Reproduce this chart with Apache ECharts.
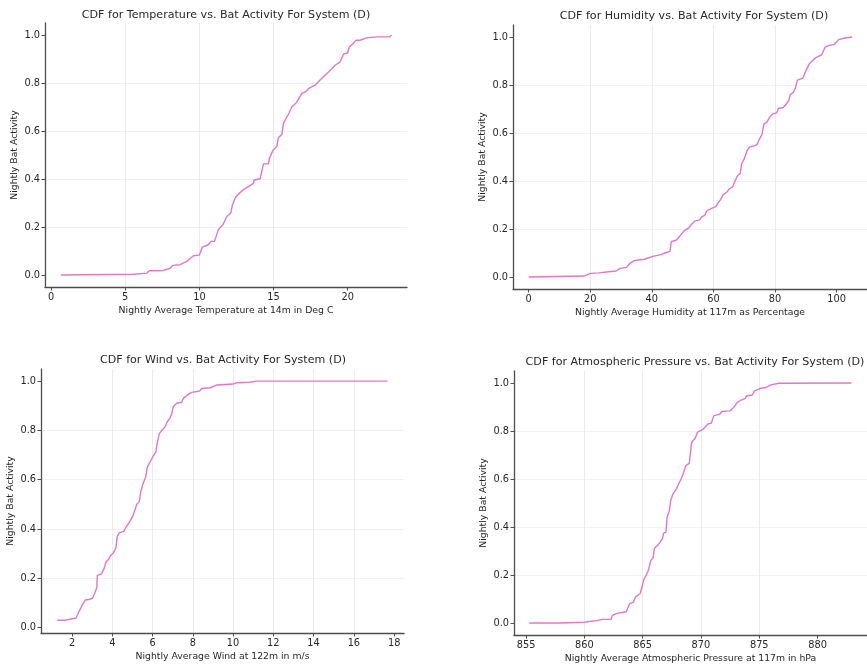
<!DOCTYPE html>
<html>
<head>
<meta charset="utf-8">
<script src="https://cdn.jsdelivr.net/npm/echarts@6/dist/echarts.min.js"></script>
<style>
  html, body { margin: 0; padding: 0; background: #fff; }
  #chart { width: 867px; height: 669px; }
</style>
</head>
<body>
<div id="chart"></div>
<script>
const tempX = [0.67, 5.57, 6.46, 6.62, 7.58, 8.03, 8.2, 8.7, 9.16, 9.6, 10.0, 10.2, 10.6, 10.78, 11.02, 11.29, 11.58, 11.85, 12.12, 12.23, 12.44, 12.7, 12.97, 13.3, 13.65, 13.69, 14.1, 14.32, 14.66, 14.72, 14.95, 15.22, 15.33, 15.56, 15.67, 15.85, 16.03, 16.23, 16.57, 16.9, 17.24, 17.35, 17.8, 18.14, 18.47, 18.8, 19.15, 19.48, 19.71, 20.0, 20.1, 20.38, 20.56, 20.83, 21.28, 21.95, 22.85, 22.96];
const tempY = [0, 0.003, 0.008, 0.018, 0.019, 0.028, 0.04, 0.043, 0.057, 0.08, 0.083, 0.116, 0.126, 0.14, 0.14, 0.19, 0.209, 0.244, 0.258, 0.292, 0.324, 0.341, 0.355, 0.368, 0.382, 0.396, 0.401, 0.463, 0.463, 0.486, 0.518, 0.535, 0.573, 0.585, 0.632, 0.653, 0.673, 0.70, 0.72, 0.756, 0.767, 0.777, 0.791, 0.812, 0.832, 0.851, 0.874, 0.887, 0.92, 0.925, 0.95, 0.964, 0.978, 0.978, 0.988, 0.992, 0.993, 1.0];

const humX = [0, 18.0, 20.1, 22.8, 26.0, 28.4, 29.7, 31.8, 32.9, 34.3, 36.1, 37.6, 38.2, 40.3, 40.8, 42.9, 44.5, 45.9, 46.3, 48.0, 49.1, 50.4, 52.0, 53.0, 54.1, 55.5, 56.2, 57.3, 57.8, 59.4, 60.8, 61.5, 62.2, 63.1, 64.5, 65.0, 66.3, 66.8, 67.7, 68.7, 69.2, 70.0, 71.0, 71.8, 73.2, 74.2, 74.8, 75.8, 76.4, 77.4, 78.5, 79.5, 80.6, 81.1, 82.7, 83.8, 84.5, 85.0, 85.9, 86.7, 87.3, 89.1, 90.1, 91.2, 92.3, 93.3, 95.2, 96.3, 97.5, 99.2, 100.7, 102.8, 105.0];
const humY = [0, 0.004, 0.015, 0.017, 0.022, 0.025, 0.036, 0.04, 0.057, 0.068, 0.072, 0.074, 0.082, 0.086, 0.092, 0.093, 0.101, 0.107, 0.147, 0.154, 0.171, 0.191, 0.205, 0.221, 0.234, 0.237, 0.251, 0.258, 0.275, 0.286, 0.293, 0.309, 0.32, 0.341, 0.355, 0.365, 0.376, 0.393, 0.42, 0.431, 0.473, 0.492, 0.528, 0.542, 0.546, 0.552, 0.57, 0.594, 0.637, 0.645, 0.67, 0.681, 0.684, 0.702, 0.706, 0.723, 0.736, 0.761, 0.768, 0.789, 0.82, 0.829, 0.861, 0.889, 0.903, 0.914, 0.926, 0.958, 0.965, 0.968, 0.989, 0.996, 1.0];

const windX = [1.27, 1.65, 1.9, 2.2, 2.36, 2.45, 2.53, 2.66, 2.9, 3.03, 3.14, 3.23, 3.26, 3.47, 3.59, 3.69, 3.81, 3.92, 4.05, 4.18, 4.25, 4.35, 4.58, 4.71, 4.88, 5.01, 5.13, 5.21, 5.34, 5.42, 5.54, 5.66, 5.74, 5.87, 6.0, 6.17, 6.23, 6.33, 6.45, 6.61, 6.74, 6.86, 6.95, 7.03, 7.2, 7.45, 7.53, 7.78, 7.94, 8.35, 8.44, 8.86, 9.18, 10.0, 10.17, 10.83, 11.16, 17.67];
const windY = [0.03, 0.03, 0.034, 0.039, 0.067, 0.067, 0.094, 0.112, 0.115, 0.12, 0.142, 0.162, 0.212, 0.218, 0.239, 0.266, 0.276, 0.292, 0.303, 0.323, 0.371, 0.384, 0.391, 0.411, 0.431, 0.451, 0.478, 0.499, 0.511, 0.553, 0.586, 0.611, 0.651, 0.67, 0.691, 0.714, 0.748, 0.786, 0.799, 0.813, 0.836, 0.849, 0.866, 0.896, 0.91, 0.914, 0.93, 0.946, 0.954, 0.96, 0.97, 0.973, 0.984, 0.988, 0.993, 0.995, 1.0, 1.0];

const presX = [855.28, 857.9, 860.0, 860.4, 861.1, 861.5, 862.3, 862.4, 862.8, 863.6, 863.9, 864.2, 864.4, 864.8, 865.1, 865.3, 865.5, 865.7, 865.9, 866.0, 866.3, 866.5, 866.7, 866.8, 867.0, 867.1, 867.3, 867.4, 867.6, 867.9, 868.1, 868.3, 868.5, 868.7, 869.0, 869.2, 869.5, 869.7, 870.2, 870.6, 870.9, 871.1, 871.6, 871.8, 872.5, 872.8, 873.1, 873.4, 873.8, 873.9, 874.4, 874.6, 875.1, 875.5, 876.0, 876.7, 882.9];
const presY = [0, 0, 0.003, 0.006, 0.01, 0.015, 0.015, 0.032, 0.04, 0.047, 0.082, 0.086, 0.109, 0.123, 0.181, 0.199, 0.22, 0.261, 0.272, 0.31, 0.324, 0.337, 0.351, 0.374, 0.379, 0.441, 0.469, 0.508, 0.538, 0.559, 0.58, 0.6, 0.624, 0.656, 0.665, 0.752, 0.77, 0.794, 0.808, 0.829, 0.833, 0.863, 0.87, 0.881, 0.884, 0.898, 0.918, 0.928, 0.936, 0.946, 0.95, 0.967, 0.978, 0.98, 0.992, 0.999, 1.0];

// tick labels
const tempTicks = [0, 5, 10, 15, 20];
const humTicks = [0, 20, 40, 60, 80, 100];
const windTicks = [2, 4, 6, 8, 10, 12, 14, 16, 18];
const presTicks = [855, 860, 865, 870, 875, 880];
const cdfTicks = [0, 0.2, 0.4, 0.6, 0.8, 1.0];

const titles = [
  'CDF for Temperature vs. Bat Activity For System (D)',
  'CDF for Humidity vs. Bat Activity For System (D)',
  'CDF for Wind vs. Bat Activity For System (D)',
  'CDF for Atmospheric Pressure vs. Bat Activity For System (D)'
];
const xNames = [
  'Nightly Average Temperature at 14m in Deg C',
  'Nightly Average Humidity at 117m as Percentage',
  'Nightly Average Wind at 122m in m/s',
  'Nightly Average Atmospheric Pressure at 117m in hPa'
];
const yName = 'Nightly Bat Activity';

const font = 'DejaVu Sans';
const textColor = '#262626';
const axisColor = '#4d4d4d';
const lineColor = '#e377c2';

// panel geometry (pixels) and axis limits
const panels = [
  { left: 45, top: 23, width: 362, height: 264, xMin: -0.41, xMax: 24.0, yMin: -0.05, yMax: 1.05, xStep: 5, ticks: tempTicks, tx: 226, ty: 10, xs: tempX, ys: tempY },
  { left: 513, top: 25, width: 361, height: 264, xMin: -5.1, xMax: 109.9, yMin: -0.05, yMax: 1.05, xStep: 20, ticks: humTicks, tx: 694, ty: 11, xs: humX, ys: humY },
  { left: 41, top: 369, width: 363, height: 264, xMin: 0.46, xMax: 18.49, yMin: -0.022, yMax: 1.049, xStep: 2, ticks: windTicks, tx: 223, ty: 355, xs: windX, ys: windY },
  { left: 514, top: 371, width: 361, height: 264, xMin: 853.97, xMax: 884.24, yMin: -0.05, yMax: 1.05, xStep: 5, ticks: presTicks, tx: 695, ty: 357, xs: presX, ys: presY }
];

const chart = echarts.init(document.getElementById('chart'));

const option = {
  backgroundColor: '#ffffff',
  animation: false,
  title: panels.map((p, i) => ({
    text: titles[i],
    left: p.tx,
    top: p.ty,
    textAlign: 'center',
    padding: 0,
    textStyle: { fontFamily: font, fontSize: 11.1, fontWeight: 'normal', color: textColor }
  })),
  grid: panels.map(p => ({
    left: p.left, top: p.top, width: p.width, height: p.height, containLabel: false
  })),
  xAxis: panels.map((p, i) => ({
    type: 'value',
    gridIndex: i,
    min: p.xMin,
    max: p.xMax,
    minInterval: p.xStep,
    maxInterval: p.xStep,
    name: xNames[i],
    nameLocation: 'middle',
    nameGap: 19,
    nameTextStyle: { fontFamily: font, fontSize: 9.3, color: textColor },
    axisLine: { show: true, onZero: false, lineStyle: { color: axisColor, width: 1.3 } },
    axisTick: { show: true, length: 3.5, customValues: p.ticks, lineStyle: { color: axisColor } },
    axisLabel: {
      customValues: p.ticks, margin: 5,
      fontFamily: font, fontSize: 9.8, color: textColor
    },
    splitLine: { show: true, showMinLine: false, showMaxLine: false, lineStyle: { color: '#e6e6e6', width: 0.8 } }
  })),
  yAxis: panels.map((p, i) => ({
    type: 'value',
    gridIndex: i,
    min: p.yMin,
    max: p.yMax,
    minInterval: 0.2,
    maxInterval: 0.2,
    name: yName,
    nameLocation: 'middle',
    nameGap: 26,
    nameTextStyle: { fontFamily: font, fontSize: 9.3, color: textColor },
    axisLine: { show: true, onZero: false, lineStyle: { color: axisColor, width: 1.3 } },
    axisTick: { show: true, length: 3.5, customValues: cdfTicks, lineStyle: { color: axisColor } },
    axisLabel: {
      customValues: cdfTicks, margin: 5,
      fontFamily: font, fontSize: 9.8, color: textColor,
      formatter: v => v.toFixed(1)
    },
    splitLine: { show: true, showMinLine: false, showMaxLine: false, lineStyle: { color: '#efefef', width: 0.8 } }
  })),
  series: panels.map((p, i) => ({
    type: 'line',
    xAxisIndex: i,
    yAxisIndex: i,
    showSymbol: false,
    data: p.xs.map((x, k) => [x, p.ys[k]]),
    lineStyle: { color: lineColor, width: 1.4 },
    itemStyle: { color: lineColor }
  }))
};

chart.setOption(option);
</script>
</body>
</html>
